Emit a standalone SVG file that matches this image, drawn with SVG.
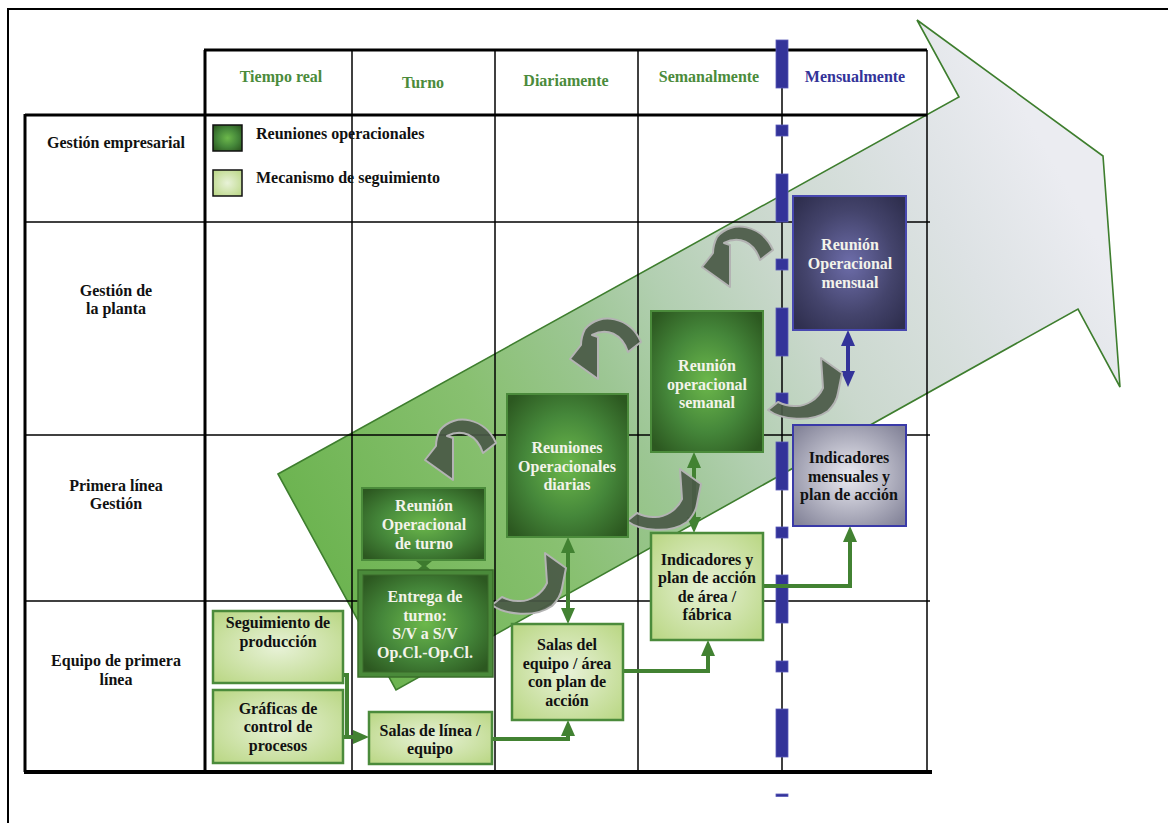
<svg xmlns="http://www.w3.org/2000/svg" width="1168" height="823" viewBox="0 0 1168 823">
<defs>
<style>
text{font-family:"Liberation Serif","Times New Roman",serif;font-weight:bold;font-size:16px;text-anchor:middle}
.st{text-anchor:start}
.hg{fill:#4b8b3b}
.hb{fill:#333399}
.k{fill:#111}
.w{fill:#f3f3ea}
.thick{stroke:#000;stroke-width:3;fill:none}
.thin{stroke:#000;stroke-width:1.5;fill:none}
.dk{fill:url(#gDark);stroke:#4b8b3b;stroke-width:2}
.lt{fill:url(#gLight);stroke:#4b8b3b;stroke-width:2.5}
.conn{stroke:#428232;stroke-width:4;fill:none}
.connb{stroke:#333399;stroke-width:4;fill:none}
.curv{fill:#4a5947;fill-opacity:0.92;stroke:#b3b3b3;stroke-width:2;stroke-linejoin:round}
.dash{fill:#333399;stroke:#5a5ab8;stroke-width:0.8}
</style>
<linearGradient id="gArrow" gradientUnits="userSpaceOnUse" x1="337" y1="582" x2="1063" y2="179">
<stop offset="0" stop-color="#6db451"/>
<stop offset="0.25" stop-color="#88c070"/>
<stop offset="0.40" stop-color="#9cc693"/>
<stop offset="0.51" stop-color="#b2cfb1"/>
<stop offset="0.65" stop-color="#cad8cd"/>
<stop offset="0.85" stop-color="#dde2e4"/>
<stop offset="1" stop-color="#ebecf1"/>
</linearGradient>
<radialGradient id="gDark" cx="0.5" cy="0.5" r="0.65">
<stop offset="0" stop-color="#6cb84b"/>
<stop offset="0.55" stop-color="#45873a"/>
<stop offset="1" stop-color="#2c5820"/>
</radialGradient>
<radialGradient id="gLight" cx="0.5" cy="0.5" r="0.65">
<stop offset="0" stop-color="#e8f2d8"/>
<stop offset="1" stop-color="#bcd888"/>
</radialGradient>
<radialGradient id="gNavy" cx="0.5" cy="0.5" r="0.65">
<stop offset="0" stop-color="#6d6daa"/>
<stop offset="0.6" stop-color="#44446c"/>
<stop offset="1" stop-color="#2f2f4f"/>
</radialGradient>
<radialGradient id="gGrey" cx="0.5" cy="0.5" r="0.65">
<stop offset="0" stop-color="#ebebf2"/>
<stop offset="1" stop-color="#85859a"/>
</radialGradient>
<marker id="mg" viewBox="0 0 16 14" refX="10" refY="7" markerWidth="16" markerHeight="14" markerUnits="userSpaceOnUse" orient="auto-start-reverse">
<path d="M0,0 L16,7 L0,14 Z" fill="#428232"/>
</marker>
<marker id="mb" viewBox="0 0 16 14" refX="10" refY="7" markerWidth="16" markerHeight="14" markerUnits="userSpaceOnUse" orient="auto-start-reverse">
<path d="M0,0 L16,7 L0,14 Z" fill="#333399"/>
</marker>
<path id="curvA" d="M496,443 C485,418 455,412 440,430 C437,436 436,441 436,446 L425,460 L453,480 L453,438 L447,436 C462,428 477,435 483,453 Z"/>
<path id="curvD" d="M492,605 C505,615 535,618 552,606 C558,600 561,595 562,588 L566,568 L545,553 L547,583 C542,594 530,602 518,601 C512,601 506,599 502,597 Z"/>
</defs>

<rect x="0" y="0" width="1168" height="823" fill="#fff"/>

<g id="frame">
<line x1="8" y1="9" x2="1168" y2="9" stroke="#000" stroke-width="2"/>
<line x1="8" y1="8" x2="8" y2="823" stroke="#000" stroke-width="2"/>
</g>

<g id="big-arrow">
<polygon points="278,474 959,97 917,20 1103,156 1120,387 1078,309 396,690" fill="url(#gArrow)" stroke="#3e7e2e" stroke-width="1.6"/>
</g>

<g id="grid">
<line class="thick" x1="204" y1="50" x2="927" y2="50"/>
<line class="thick" x1="25" y1="115" x2="927" y2="115"/>
<line class="thick" x1="205" y1="50" x2="205" y2="772"/>
<line class="thick" x1="25" y1="114" x2="25" y2="772"/>
<line class="thin" x1="25" y1="222" x2="930" y2="222"/>
<line class="thin" x1="25" y1="435" x2="930" y2="435"/>
<line class="thin" x1="25" y1="601" x2="930" y2="601"/>
<line class="thin" x1="352" y1="50" x2="352" y2="772"/>
<line class="thin" x1="495" y1="50" x2="495" y2="772"/>
<line class="thin" x1="638" y1="50" x2="638" y2="772"/>
<line class="thin" x1="927" y1="50" x2="927" y2="772"/>
<line class="thin" x1="782" y1="40" x2="782" y2="772"/>
<line x1="24" y1="772" x2="932" y2="772" stroke="#000" stroke-width="4"/>
</g>

<g id="month-divider">
<rect class="dash" x="776" y="40" width="12" height="48"/>
<rect class="dash" x="776" y="125" width="12" height="11"/>
<rect class="dash" x="776" y="174" width="12" height="48"/>
<rect class="dash" x="776" y="259" width="12" height="11"/>
<rect class="dash" x="776" y="308" width="12" height="48"/>
<rect class="dash" x="776" y="393" width="12" height="11"/>
<rect class="dash" x="776" y="442" width="12" height="48"/>
<rect class="dash" x="776" y="527" width="12" height="11"/>
<rect class="dash" x="776" y="575" width="12" height="48"/>
<rect class="dash" x="776" y="661" width="12" height="11"/>
<rect class="dash" x="776" y="709" width="12" height="48"/>
<rect class="dash" x="776" y="794" width="12" height="2.5"/>
</g>

<g id="headers">
<text class="hg" x="281" y="82">Tiempo real</text>
<text class="hg" x="423" y="88">Turno</text>
<text class="hg" x="566" y="86">Diariamente</text>
<text class="hg" x="709" y="82">Semanalmente</text>
<text class="hb" x="855" y="82">Mensualmente</text>
</g>

<g id="row-labels">
<text class="k" x="116" y="148">Gestión empresarial</text>
<text class="k" x="116" y="296">Gestión de</text>
<text class="k" x="116" y="314">la planta</text>
<text class="k" x="116" y="491">Primera línea</text>
<text class="k" x="116" y="509">Gestión</text>
<text class="k" x="116" y="666">Equipo de primera</text>
<text class="k" x="116" y="685">línea</text>
</g>

<g id="legend">
<rect x="213" y="125" width="29" height="26" fill="url(#gDark)" stroke="#111" stroke-width="1.5"/>
<rect x="213" y="170" width="29" height="26" fill="url(#gLight)" stroke="#111" stroke-width="1.5"/>
<text class="k st" x="256" y="139">Reuniones operacionales</text>
<text class="k st" x="256" y="183">Mecanismo de seguimiento</text>
</g>

<g id="connectors">
<path class="conn" d="M343,675 H347 V737"/>
<path class="conn" d="M343,737 H363" marker-end="url(#mg)"/>
<path class="conn" d="M492,739 H568 V726" marker-end="url(#mg)"/>
<path class="conn" d="M568,543 V618" marker-start="url(#mg)" marker-end="url(#mg)"/>
<path class="conn" d="M623,671 H708 V646" marker-end="url(#mg)"/>
<path class="conn" d="M694,458 V527" marker-start="url(#mg)" marker-end="url(#mg)"/>
<path class="conn" d="M763,586 H850 V532" marker-end="url(#mg)"/>
<path class="connb" d="M848,336 V381" marker-start="url(#mb)" marker-end="url(#mb)"/>
<polygon points="416,561 432,561 426,566 432,571 416,571 422,566" fill="#3d7a2e"/>
</g>

<g id="cycle-arrows">
<use href="#curvA" class="curv"/>
<use href="#curvA" class="curv" transform="translate(145,-101)"/>
<use href="#curvA" class="curv" transform="translate(277,-193)"/>
<use href="#curvD" class="curv"/>
<use href="#curvD" class="curv" transform="translate(135,-84)"/>
<use href="#curvD" class="curv" transform="translate(276,-195)"/>
</g>

<g id="node-turno">
<rect class="dk" x="362" y="488" width="123" height="72"/>
<text class="w" x="424" y="511">Reunión</text>
<text class="w" x="424" y="530">Operacional</text>
<text class="w" x="424" y="549">de turno</text>
</g>

<g id="node-entrega">
<rect x="358" y="570" width="135" height="107" fill="#4a8a3a" stroke="#3a6e2a" stroke-width="1.5"/>
<rect x="363" y="575" width="125" height="97" fill="url(#gDark)" stroke="#3a6a2a" stroke-width="1"/>
<text class="w" x="425" y="602">Entrega de</text>
<text class="w" x="425" y="621">turno:</text>
<text class="w" x="425" y="639">S/V a S/V</text>
<text class="w" x="425" y="658">Op.Cl.-Op.Cl.</text>
</g>

<g id="node-diarias">
<rect class="dk" x="507" y="394" width="121" height="143"/>
<text class="w" x="567" y="453">Reuniones</text>
<text class="w" x="567" y="472">Operacionales</text>
<text class="w" x="567" y="490">diarias</text>
</g>

<g id="node-semanal">
<rect class="dk" x="651" y="311" width="112" height="141"/>
<text class="w" x="707" y="371">Reunión</text>
<text class="w" x="707" y="390">operacional</text>
<text class="w" x="707" y="408">semanal</text>
</g>

<g id="node-mensual">
<rect x="793" y="196" width="113" height="134" fill="url(#gNavy)" stroke="#4848b0" stroke-width="2"/>
<text class="w" x="850" y="250">Reunión</text>
<text class="w" x="850" y="269">Operacional</text>
<text class="w" x="850" y="288">mensual</text>
</g>

<g id="node-ind-mensuales">
<rect x="793" y="425" width="113" height="101" fill="url(#gGrey)" stroke="#3a3aa8" stroke-width="2"/>
<text class="k" x="849" y="463">Indicadores</text>
<text class="k" x="849" y="482">mensuales y</text>
<text class="k" x="849" y="500">plan de acción</text>
</g>

<g id="node-ind-area">
<rect class="lt" x="651" y="533" width="112" height="107"/>
<text class="k" x="707" y="565">Indicadores y</text>
<text class="k" x="707" y="583">plan de acción</text>
<text class="k" x="707" y="602">de área /</text>
<text class="k" x="707" y="620">fábrica</text>
</g>

<g id="node-salas-equipo">
<rect class="lt" x="512" y="624" width="111" height="96"/>
<text class="k" x="567" y="650">Salas del</text>
<text class="k" x="567" y="669">equipo / área</text>
<text class="k" x="567" y="687">con plan de</text>
<text class="k" x="567" y="706">acción</text>
</g>

<g id="node-salas-linea">
<rect class="lt" x="369" y="712" width="123" height="52"/>
<text class="k" x="430" y="736">Salas de línea /</text>
<text class="k" x="430" y="754">equipo</text>
</g>

<g id="node-seguimiento">
<rect class="lt" x="213" y="611" width="130" height="72"/>
<text class="k" x="278" y="628">Seguimiento de</text>
<text class="k" x="278" y="647">producción</text>
</g>

<g id="node-graficas">
<rect class="lt" x="213" y="690" width="130" height="73"/>
<text class="k" x="278" y="714">Gráficas de</text>
<text class="k" x="278" y="732">control de</text>
<text class="k" x="278" y="751">procesos</text>
</g>
</svg>
